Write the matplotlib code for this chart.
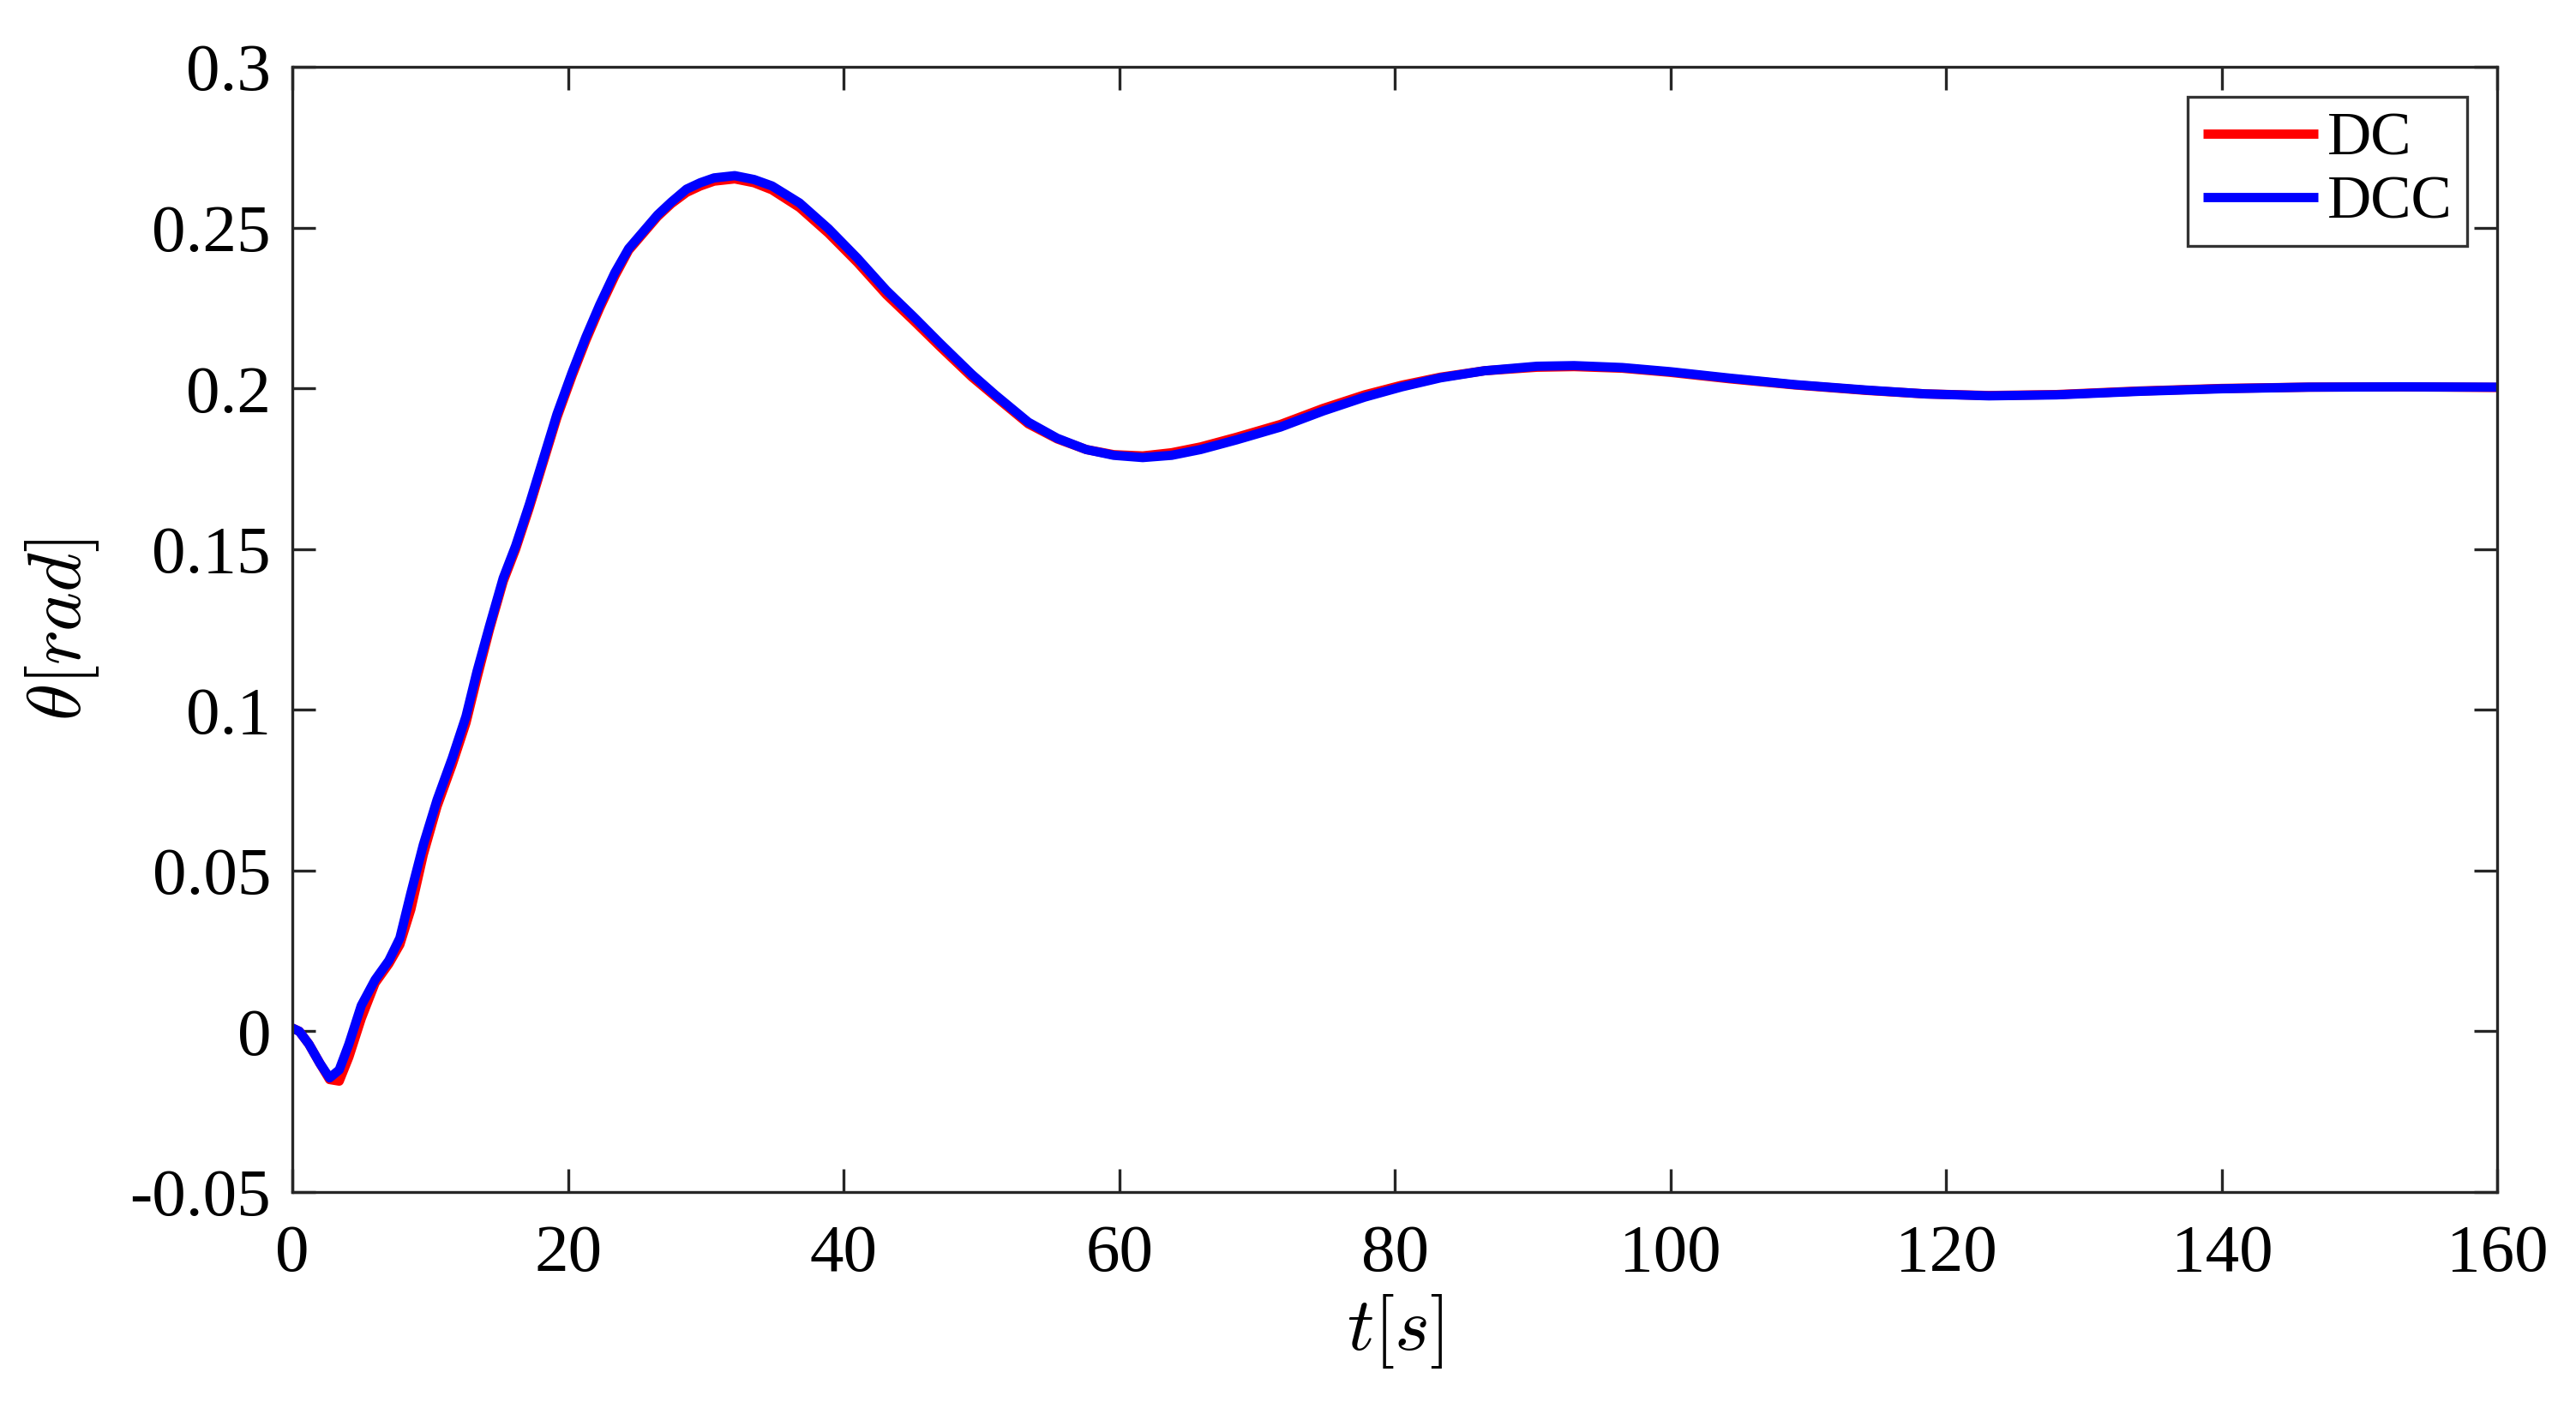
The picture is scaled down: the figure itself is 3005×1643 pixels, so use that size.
import matplotlib
matplotlib.use("Agg")
import matplotlib.pyplot as plt

# ---- data ----
t = [0, 0.5, 1.2, 2.0, 2.7, 3.4, 4.1, 5.0, 6.0, 7.0, 7.8, 8.6, 9.5, 10.5, 11.6,
     12.6, 13.4, 14.3, 15.3, 16.2, 17.2, 18.2, 19.2, 20.3, 21.3, 22.3, 23.4,
     24.4, 25.5, 26.5, 27.5, 28.6, 29.6, 30.6, 32.1, 33.5, 34.8, 36.8, 38.9,
     41.0, 43.1, 45.1, 47.0, 49.3, 51.0, 53.4, 55.5, 57.6, 59.6, 61.7, 63.8,
     65.9, 68.5, 71.7, 74.8, 77.8, 80.5, 83.3, 86.5, 90.3, 93.0, 96.5, 100,
     104.3, 109, 114.2, 118.5, 123.1, 128, 134, 140, 146.3, 153, 160]

theta_dcc = [0.001, 0.0, -0.004, -0.010, -0.0145, -0.012, -0.004, 0.008, 0.016,
             0.022, 0.029, 0.043, 0.058, 0.072, 0.085, 0.098, 0.112, 0.126,
             0.141, 0.151, 0.164, 0.178, 0.192, 0.205, 0.216, 0.226, 0.236,
             0.2435, 0.249, 0.254, 0.258, 0.262, 0.264, 0.2655, 0.2662, 0.265,
             0.263, 0.2577, 0.2497, 0.2405, 0.2305, 0.2222, 0.214, 0.2044,
             0.198, 0.1895, 0.1845, 0.181, 0.1792, 0.1785, 0.1792, 0.181,
             0.184, 0.188, 0.193, 0.1973, 0.2005, 0.2033, 0.2055, 0.2069,
             0.2071, 0.2065, 0.2052, 0.2032, 0.2012, 0.1995, 0.1983, 0.1977,
             0.198, 0.1991, 0.1999, 0.2004, 0.2005, 0.2004]

theta_dc = [0.001, 0.0, -0.004, -0.010, -0.015, -0.0155, -0.008, 0.004, 0.015,
            0.021, 0.027, 0.038, 0.055, 0.070, 0.083, 0.096, 0.110, 0.125,
            0.140, 0.150, 0.163, 0.177, 0.191, 0.204, 0.215, 0.225, 0.235,
            0.243, 0.2485, 0.2535, 0.2575, 0.261, 0.263, 0.2645, 0.2652, 0.264,
            0.2618, 0.2563, 0.2483, 0.2392, 0.2292, 0.2210, 0.2130, 0.2036,
            0.1975, 0.1890, 0.1843, 0.1810, 0.1794, 0.1790, 0.1800, 0.1818,
            0.1848, 0.1888, 0.1938, 0.1980, 0.2010, 0.2035, 0.2055, 0.2066,
            0.2068, 0.2063, 0.2050, 0.2030, 0.2011, 0.1994, 0.1983, 0.1978,
            0.1981, 0.1992, 0.2000, 0.2004, 0.2005, 0.2003]

labels = ["DC", "DCC"]
xticks = [0, 20, 40, 60, 80, 100, 120, 140, 160]
yticks = [-0.05, 0, 0.05, 0.1, 0.15, 0.2, 0.25, 0.3]
yticklabels = ["-0.05", "0", "0.05", "0.1", "0.15", "0.2", "0.25", "0.3"]

# ---- style ----
plt.rcParams["font.family"] = ["Liberation Serif", "DejaVu Serif"]
plt.rcParams["mathtext.fontset"] = "cm"

fig = plt.figure(figsize=(3005 / 300, 1643 / 300), dpi=300)
ax = fig.add_axes([0.1135, 0.1534, 0.856, 0.799])

axcol = "#262626"
ax.plot(t, theta_dc, color="#ff0000", lw=2.6, label=labels[0],
        solid_joinstyle="round", solid_capstyle="round")
ax.plot(t, theta_dcc, color="#0000ff", lw=2.6, label=labels[1],
        solid_joinstyle="round", solid_capstyle="round")

ax.set_xlim(0, 160)
ax.set_ylim(-0.05, 0.3)
ax.set_xticks(xticks)
ax.set_xticklabels([str(v) for v in xticks])
ax.set_yticks(yticks)
ax.set_yticklabels(yticklabels)

ax.tick_params(direction="in", length=6.5, width=0.8, colors=axcol,
               labelsize=19, top=True, right=True, labelcolor="black")
ax.tick_params(axis="x", pad=9)
ax.tick_params(axis="y", pad=6)
for s in ax.spines.values():
    s.set_linewidth(0.8)
    s.set_color(axcol)

ax.set_xlabel(r"$t[s]$", fontsize=21, labelpad=2)
ax.set_ylabel(r"$\theta[rad]$", fontsize=21, labelpad=8)

leg = ax.legend(loc="upper right", bbox_to_anchor=(0.9864, 0.9734),
                fontsize=17, frameon=True, fancybox=False, shadow=False,
                borderaxespad=0, handlelength=1.9, handletextpad=0.15,
                labelspacing=0.12, borderpad=0.25)
leg.get_frame().set_edgecolor("black")
leg.get_frame().set_linewidth(0.8)
for line in leg.get_lines():
    line.set_solid_capstyle("butt")

fig.savefig("out.png", dpi=300, facecolor="white")
